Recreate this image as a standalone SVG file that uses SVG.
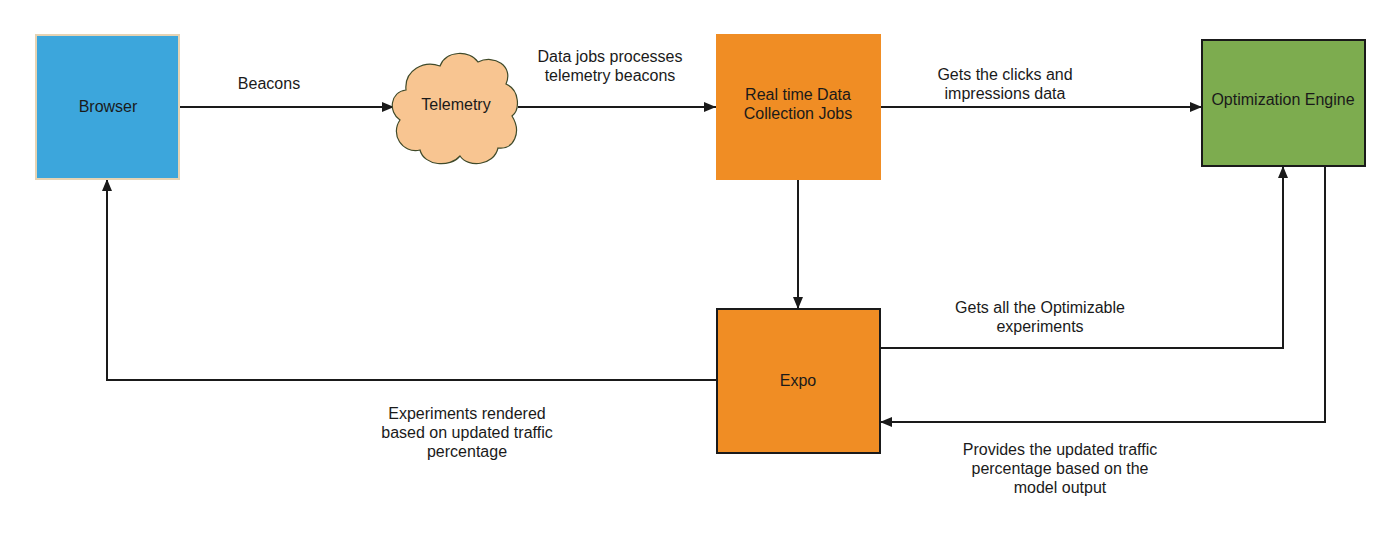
<svg xmlns="http://www.w3.org/2000/svg" width="1400" height="538" viewBox="0 0 1400 538">
  <style>
    .lbl { font-family: "Liberation Sans", Arial, sans-serif; font-size: 16px; fill: #1a1a1a; text-anchor: middle; }
    .conn { fill: none; stroke: #1a1a1a; stroke-width: 2; }
  </style>
  <defs>
    <marker id="arrow" viewBox="0 0 12 10" refX="12" refY="5" markerWidth="12" markerHeight="10" markerUnits="userSpaceOnUse" orient="auto">
      <path d="M0,0 L12,5 L0,10 Z" fill="#1a1a1a"/>
    </marker>
  </defs>
  <rect width="1400" height="538" fill="#ffffff"/>

  <g id="connectors">
    <path class="conn" d="M179,107 H394" marker-end="url(#arrow)"/>
    <path class="conn" d="M518,107 H716" marker-end="url(#arrow)"/>
    <path class="conn" d="M881,107 H1202" marker-end="url(#arrow)"/>
    <path class="conn" d="M798,180 V309" marker-end="url(#arrow)"/>
    <path class="conn" d="M880,348 H1283 V166" marker-end="url(#arrow)"/>
    <path class="conn" d="M1325,166 V422 H880" marker-end="url(#arrow)"/>
    <path class="conn" d="M717,380 H107 V179" marker-end="url(#arrow)"/>
  </g>

  <g id="labels">
    <text class="lbl" x="269" y="89">Beacons</text>
    <text class="lbl" x="610" y="62">Data jobs processes</text>
    <text class="lbl" x="610" y="81">telemetry beacons</text>
    <text class="lbl" x="1005" y="80">Gets the clicks and</text>
    <text class="lbl" x="1005" y="99">impressions data</text>
    <text class="lbl" x="1040" y="313">Gets all the Optimizable</text>
    <text class="lbl" x="1040" y="332">experiments</text>
    <text class="lbl" x="467" y="419">Experiments rendered</text>
    <text class="lbl" x="467" y="438">based on updated traffic</text>
    <text class="lbl" x="467" y="457">percentage</text>
    <text class="lbl" x="1060" y="455">Provides the updated traffic</text>
    <text class="lbl" x="1060" y="474">percentage based on the</text>
    <text class="lbl" x="1060" y="493">model output</text>
  </g>

  <g id="browser">
    <rect x="36" y="35" width="143" height="144" fill="#3CA6DC" stroke="#E6D3B3" stroke-width="2"/>
    <text class="lbl" x="108" y="112">Browser</text>
  </g>

  <g id="telemetry">
    <path d="M400,120 C388,112 390,92 406,90 C404,70 424,60 440,66 C446,50 470,50 478,62 C494,54 514,66 506,84 C520,90 520,110 512,116 C522,132 514,150 498,148 C494,166 468,168 460,156 C450,168 424,166 420,150 C402,154 390,134 400,120 Z" fill="#F8C591" stroke="#3f4a2a" stroke-width="1.2"/>
    <text class="lbl" x="456" y="110">Telemetry</text>
  </g>

  <g id="realtime">
    <rect x="716" y="34" width="165" height="146" fill="#F08D24"/>
    <text class="lbl" x="798" y="100">Real time Data</text>
    <text class="lbl" x="798" y="119">Collection Jobs</text>
  </g>

  <g id="optimization">
    <rect x="1202" y="40" width="163" height="126" fill="#7DAC4F" stroke="#1a1a1a" stroke-width="2"/>
    <text class="lbl" x="1283" y="105">Optimization Engine</text>
  </g>

  <g id="expo">
    <rect x="717" y="309" width="163" height="144" fill="#F08D24" stroke="#1a1a1a" stroke-width="2"/>
    <text class="lbl" x="798" y="386">Expo</text>
  </g>
</svg>
